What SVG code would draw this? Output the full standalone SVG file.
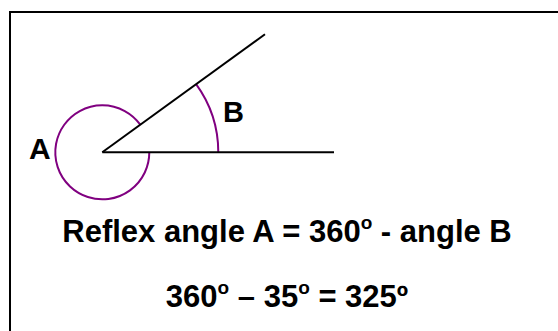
<svg xmlns="http://www.w3.org/2000/svg" width="558" height="331" viewBox="0 0 558 331">
<style>
.ray{stroke:#000;stroke-width:2;fill:none}
.arc{stroke:#800080;stroke-width:2;fill:none}
.lbl{font-family:"Liberation Sans",Arial,sans-serif;font-weight:bold;fill:#000}
</style>
<rect width="558" height="331" fill="#fff"/>
<rect x="10" y="12" width="570" height="340" fill="none" stroke="#000" stroke-width="2"/>
<g id="angle-arcs">
<path class="arc" d="M 149.3 152.3 A 47 47 0 1 1 140.3 124.7"/>
<path class="arc" d="M 218.3 152.3 A 116 116 0 0 0 196.1 84.1"/>
</g>
<g id="connectors">
<line class="ray" x1="102.3" y1="152.3" x2="334" y2="152.3"/>
<line class="ray" x1="102.3" y1="152.3" x2="265" y2="34.3"/>
</g>
<g id="label-A"><text class="lbl" x="29" y="159" font-size="30">A</text></g>
<g id="label-B"><text class="lbl" x="223" y="122" font-size="29">B</text></g>
<g id="formula1"><text class="lbl" x="287" y="242" font-size="31" text-anchor="middle">Reflex angle A = 360<tspan font-size="19" dy="-13">o</tspan><tspan dy="13"> - angle B</tspan></text></g>
<g id="formula2"><text class="lbl" x="287" y="307" font-size="31" text-anchor="middle">360<tspan font-size="19" dy="-13">o</tspan><tspan dy="13"> – 35</tspan><tspan font-size="19" dy="-13">o</tspan><tspan dy="13"> = 325º</tspan></text></g>
</svg>
